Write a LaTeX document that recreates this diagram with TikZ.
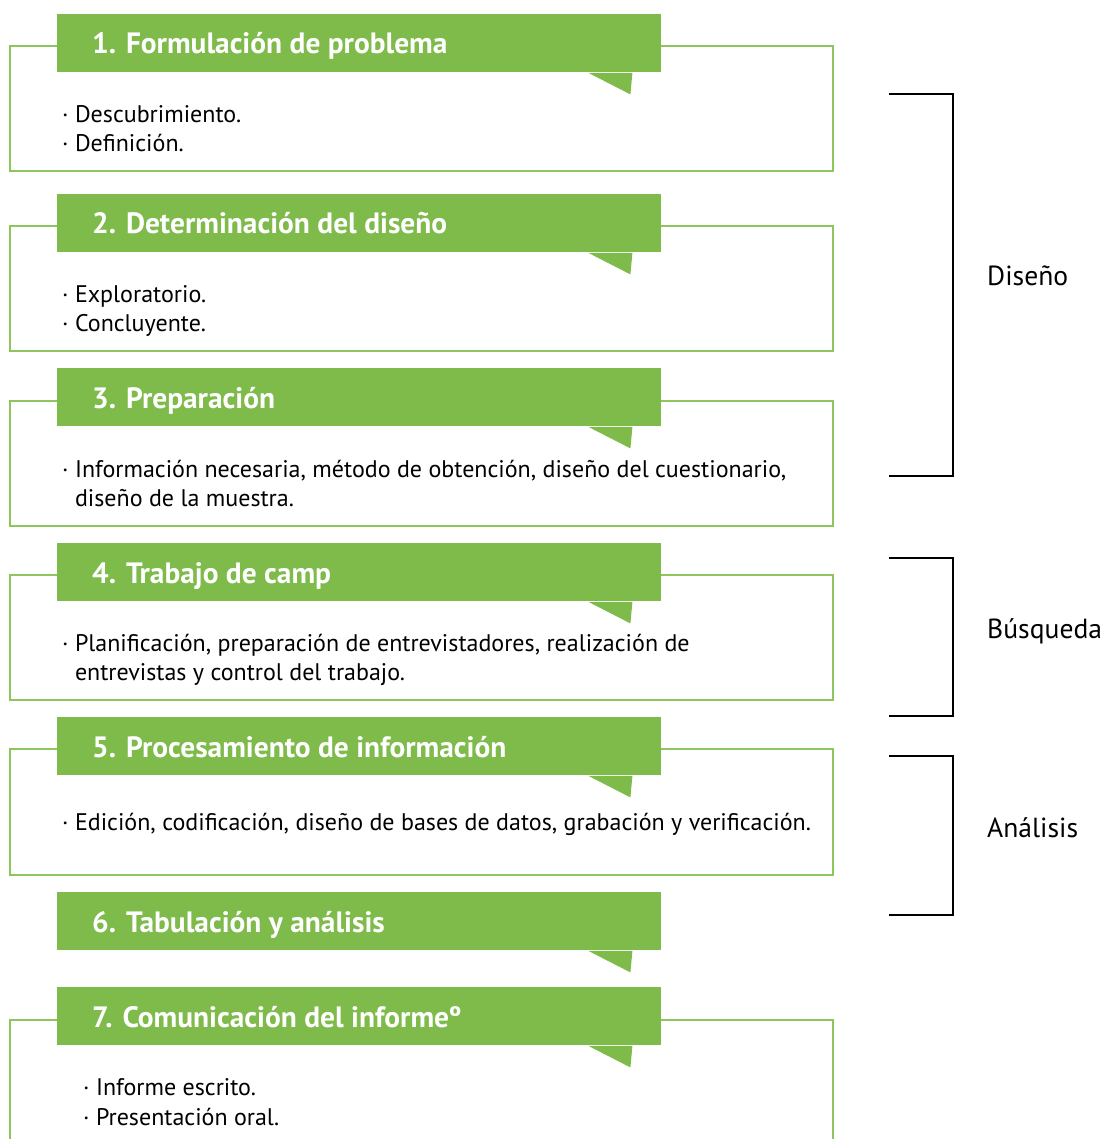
\documentclass[tikz,border=0pt]{standalone}
\usepackage{fontspec}
\setmainfont{PT Sans}
\begin{document}
\begin{tikzpicture}[x=1pt,y=-1pt]
\definecolor{hdrgreen}{RGB}{126,187,74}
\definecolor{boxgreen}{RGB}{140,198,92}
\tikzset{
  stagebox/.style={draw=boxgreen,line width=2pt,fill=white},
  header/.style={fill=hdrgreen,draw=none,anchor=north west,minimum width=604pt,minimum height=58pt,inner sep=0pt},
  headtext/.style={anchor=base west,text=white,font=\bfseries\fontsize{29.4}{32}\selectfont,inner sep=0pt},
  bodytext/.style={anchor=base west,inner sep=0pt,font=\fontsize{24}{29.5}\selectfont},
  bracket/.style={draw=black,line width=2pt},
  sidelabel/.style={anchor=base west,inner sep=0pt,font=\fontsize{27.6}{30}\selectfont}
}
\useasboundingbox (0,0) rectangle (1107,1139);
% step frames
\draw[stagebox] (10,46) rectangle (833,171);
\draw[stagebox] (10,226) rectangle (833,351);
\draw[stagebox] (10,401) rectangle (833,526);
\draw[stagebox] (10,575) rectangle (833,700);
\draw[stagebox] (10,749) rectangle (833,875);
\draw[stagebox] (10,1145) -- (10,1020) -- (833,1020) -- (833,1145);
% headers with speech-bubble tails
\foreach \n/\y in {1/14,2/194,3/368,4/543,5/717,6/892,7/987}{
  \node[header] (h\n) at (57,\y) {};
  \fill[hdrgreen] ([xshift=-73pt,yshift=-0.5pt]h\n.south east) -- ([xshift=-31pt,yshift=-22pt]h\n.south east)
     -- ([xshift=-29pt,yshift=-0.5pt]h\n.south east) -- cycle;
}
\node[headtext] (t1) at ([xshift=35pt,yshift=-40pt]h1.north west) {1. Formulación de problema};
\node[headtext] (t2) at ([xshift=35pt,yshift=-40pt]h2.north west) {2. Determinación del diseño};
\node[headtext] (t3) at ([xshift=35pt,yshift=-40pt]h3.north west) {3. Preparación};
\node[headtext] (t4) at ([xshift=35pt,yshift=-40pt]h4.north west) {4. Trabajo de camp};
\node[headtext] (t5) at ([xshift=35pt,yshift=-40pt]h5.north west) {5. Procesamiento de información};
\node[headtext] (t6) at ([xshift=35pt,yshift=-40pt]h6.north west) {6. Tabulación y análisis};
\node[headtext] (t7) at ([xshift=35pt,yshift=-40pt]h7.north west) {7. Comunicación del informeº};
% item texts
\node[bodytext] (b1a) at (62,123) {· Descubrimiento.};
\node[bodytext] (b1b) at (62,152) {· Definición.};
\node[bodytext] (b2a) at (62,302) {· Exploratorio.};
\node[bodytext] (b2b) at (62,331) {· Concluyente.};
\node[bodytext] (b3a) at (62,477) {· Información necesaria, método de obtención, diseño del cuestionario,};
\node[bodytext] (b3b) at (62,506) {\hphantom{· }diseño de la muestra.};
\node[bodytext] (b4a) at (62,651) {· Planificación, preparación de entrevistadores, realización de};
\node[bodytext] (b4b) at (62,680) {\hphantom{· }entrevistas y control del trabajo.};
\node[bodytext] (b5a) at (62,830) {· Edición, codificación, diseño de bases de datos, grabación y verificación.};
\node[bodytext] (b7a) at (83,1095) {· Informe escrito.};
\node[bodytext] (b7b) at (83,1125) {· Presentación oral.};
% phase brackets
\draw[bracket] (889,94) -- (953,94) -- (953,476) -- (889,476);
\draw[bracket] (889,558) -- (953,558) -- (953,716) -- (889,716);
\draw[bracket] (889,756) -- (953,756) -- (953,915) -- (889,915);
\node[sidelabel] (l1) at (987,286) {Diseño};
\node[sidelabel] (l2) at (987,638) {Búsqueda};
\node[sidelabel] (l3) at (987,837) {Análisis};
\end{tikzpicture}
\end{document}
